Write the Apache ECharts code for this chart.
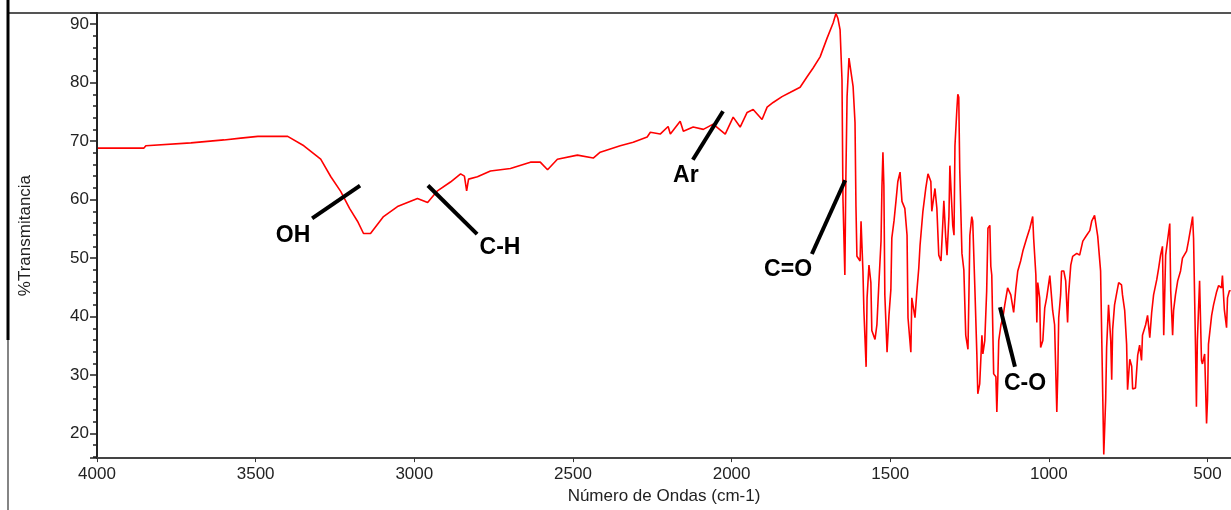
<!DOCTYPE html>
<html>
<head>
<meta charset="utf-8">
<title>Espectro IR</title>
<script src="https://cdn.jsdelivr.net/npm/echarts@6/dist/echarts.min.js"></script>
<style>
html,body{margin:0;padding:0;background:#fff;}
#chart{width:1231px;height:510px;}
</style>
</head>
<body>
<div id="chart"></div>
<script>
// numero de onda (cm-1)
const wavenumbers = [
  3997,3852,3846,3704,3600,3547,3493,3399,3348,3295,3263,3232,3204,3179,3160,3138,
  3097,3053,2990,2958,2927,2886,2854,2842,2835,2829,2801,2760,2697,2634,2603,2580,
  2549,2486,2436,2414,2351,2310,2266,2256,2225,2200,2193,2162,2152,2121,2089,2058,
  2020,1995,1973,1951,1932,1904,1888,1869,1841,1816,1784,1762,1743,1721,1699,1680,
  1671,1665,1658,1652,1649,1643,1640,1636,1630,1624,1617,1611,1608,1605,1595,1592,
  1586,1583,1576,1573,1567,1561,1558,1548,1542,1536,1529,1526,1523,1520,1517,1510,
  1504,1498,1495,1488,1482,1476,1469,1463,1454,1447,1444,1435,1432,1422,1416,1410,
  1406,1397,1388,1381,1372,1369,1359,1353,1347,1340,1334,1331,1325,1321,1315,1312,
  1303,1299,1296,1290,1287,1284,1281,1274,1268,1262,1255,1252,1249,1243,1240,1233,
  1227,1224,1218,1211,1208,1202,1196,1192,1186,1183,1180,1174,1167,1164,1161,1158,
  1151,1145,1139,1130,1120,1114,1111,1104,1098,1089,1082,1070,1060,1051,1048,1041,
  1038,1035,1029,1026,1019,1013,1007,997,991,988,982,975,972,969,963,960,
  953,947,941,938,931,925,912,903,893,881,871,865,856,846,837,830,
  827,821,818,812,805,802,799,793,786,780,771,768,761,755,752,745,
  739,736,727,720,714,708,705,695,689,682,676,670,660,654,648,642,
  638,632,626,619,616,610,607,601,594,585,579,566,560,553,547,544,
  538,535,532,525,519,516,509,503,500,497,487,481,472,465,456,453,
  447,440,437,431,427
];
// %Transmitancia
const transmittance = [
  68.8,68.8,69.2,69.7,70.2,70.5,70.8,70.8,69.2,66.9,63.9,61.4,58.5,56.3,54.2,54.2,
  57.1,58.8,60.2,59.5,61.5,63.0,64.4,64.0,61.5,63.5,63.9,64.9,65.3,66.4,66.4,65.1,
  66.9,67.6,67.1,68.1,69.2,69.8,70.7,71.5,71.2,72.5,71.2,73.4,71.7,72.4,72.0,72.9,
  71.2,74.1,72.4,74.9,75.4,73.7,75.8,76.6,77.6,78.3,79.2,81.0,82.5,84.4,87.6,90.2,
  91.8,91.0,89.0,80.5,60.2,47.1,63.1,77.6,84.2,84.0,79.3,73.2,58.8,50.3,49.5,56.3,
  47.8,41.0,31.4,43.2,48.8,45.8,37.6,36.1,38.6,45.4,52.9,62.4,68.1,62.4,43.7,33.9,
  40.2,44.6,53.4,56.4,59.7,63.1,64.7,59.7,58.5,53.9,39.8,33.9,43.2,39.8,44.4,48.3,
  52.2,58.0,61.9,64.4,63.1,58.0,61.9,58.5,50.5,49.5,56.3,59.8,53.4,50.5,57.1,65.8,
  55.6,53.9,69.2,75.4,78.0,77.5,65.3,50.8,48.0,36.8,34.4,43.7,53.9,57.1,56.3,44.4,
  33.6,26.8,28.5,36.8,33.6,35.9,44.4,55.1,55.6,48.6,47.1,30.2,29.7,23.7,29.2,35.9,
  38.6,39.8,42.0,44.9,43.7,43.7,40.7,44.9,47.8,49.5,51.2,53.4,55.1,57.1,53.4,47.1,
  39.0,45.8,43.2,34.7,35.9,41.5,43.2,47.0,47.0,41.0,38.6,23.7,30.0,39.8,43.7,47.8,
  47.8,46.1,39.0,43.7,48.8,50.3,50.8,50.5,52.9,53.9,54.7,56.3,57.3,53.7,47.8,25.8,
  16.4,25.8,34.7,42.0,35.9,29.2,37.8,42.0,44.1,45.8,45.4,43.7,41.0,35.3,27.5,32.7,
  31.5,27.6,27.8,33.4,35.1,32.5,36.8,38.6,40.2,36.4,40.7,43.7,46.3,48.3,50.5,52.0,
  36.8,50.5,50.5,55.9,44.4,36.8,41.0,43.7,46.1,47.8,50.0,51.2,52.9,55.1,57.1,53.4,
  35.3,24.6,35.9,46.1,32.5,31.9,33.6,21.7,25.8,35.3,40.2,42.0,44.1,45.3,44.9,47.0,
  41.2,38.1,43.2,44.4,44.4
];

// bandas senaladas: [numero de onda, %T]
const bandNames = ['OH', 'C-H', 'Ar', 'C=O', 'C-O'];
const bandLineFrom = [[3322, 56.8], [2957, 62.4], [2122, 66.8], [1642, 63.3], [1154, 41.6]];
const bandLineTo = [[3171, 62.4], [2802, 54.1], [2027, 75.1], [1747, 50.7], [1107, 31.4]];
const bandLabelAt = [[3382, 53.8], [2730, 51.7], [2144, 64.1], [1822, 48.0], [1075, 28.5]];

const xMin = 426, xMax = 4000;
const yMin = 15.8, yMax = 91.9;

let spectrum = wavenumbers.map((w, i) => [w, transmittance[i]]);
let bandLines = bandLineFrom.map((p, i) => [{coord: p}, {coord: bandLineTo[i]}]);
let bandLabels = bandNames.map((n, i) => ({name: n, coord: bandLabelAt[i]}));

let myChart = echarts.init(document.getElementById('chart'), null, {renderer: 'canvas'});
let font = 'Liberation Sans, Arial, sans-serif';

let option = {
  animation: false,
  backgroundColor: '#fff',
  grid: {left: 97, right: 0, top: 13, bottom: 48},
  xAxis: {
    type: 'value',
    inverse: true,
    min: xMin,
    max: xMax,
    splitNumber: 7,
    name: 'Número de Ondas (cm-1)',
    nameLocation: 'middle',
    nameGap: 24,
    nameTextStyle: {fontSize: 17, color: '#222', fontFamily: font},
    axisLine: {show: true, onZero: false, lineStyle: {color: '#444', width: 2}},
    axisTick: {show: true, length: 4, lineStyle: {color: '#333', width: 1}},
    axisLabel: {
      fontSize: 17, color: '#222', fontFamily: font, margin: 8, showMinLabel: false,
      formatter: v => String(v)
    },
    splitLine: {show: false}
  },
  yAxis: {
    type: 'value',
    min: yMin,
    max: yMax,
    splitNumber: 8,
    name: '%Transmitancia',
    nameLocation: 'middle',
    nameGap: 63,
    nameTextStyle: {fontSize: 17, color: '#222', fontFamily: font},
    axisLine: {show: true, onZero: false, lineStyle: {color: '#222', width: 2}},
    axisTick: {show: true, length: 7, lineStyle: {color: '#222', width: 1.5}},
    minorTick: {show: true, splitNumber: 5, length: 4, lineStyle: {color: '#222', width: 1.5}},
    axisLabel: {
      fontSize: 17, color: '#222', fontFamily: font, margin: 8, showMinLabel: false, showMaxLabel: false,
      formatter: v => String(v)
    },
    splitLine: {show: false}
  },
  graphic: [
    {type: 'line', shape: {x1: 8, y1: 13, x2: 1231, y2: 13}, style: {stroke: '#555', lineWidth: 2}},
    {type: 'line', shape: {x1: 8, y1: 0, x2: 8, y2: 340}, style: {stroke: '#000', lineWidth: 3}},
    {type: 'line', shape: {x1: 8, y1: 340, x2: 8, y2: 510}, style: {stroke: '#333', lineWidth: 1.2}}
  ],
  series: [
    {
      type: 'line',
      data: spectrum,
      showSymbol: false,
      lineStyle: {color: '#ff0000', width: 1.6},
      markLine: {
        silent: true,
        symbol: 'none',
        label: {show: false},
        lineStyle: {color: '#000', width: 4, type: 'solid'},
        data: bandLines
      },
      markPoint: {
        silent: true,
        symbol: 'circle',
        symbolSize: 0,
        label: {
          show: true,
          position: 'inside',
          formatter: '{b}',
          color: '#000',
          fontSize: 23,
          fontWeight: 'bold',
          fontFamily: font
        },
        data: bandLabels
      }
    }
  ]
};

myChart.setOption(option);
</script>
</body>
</html>
